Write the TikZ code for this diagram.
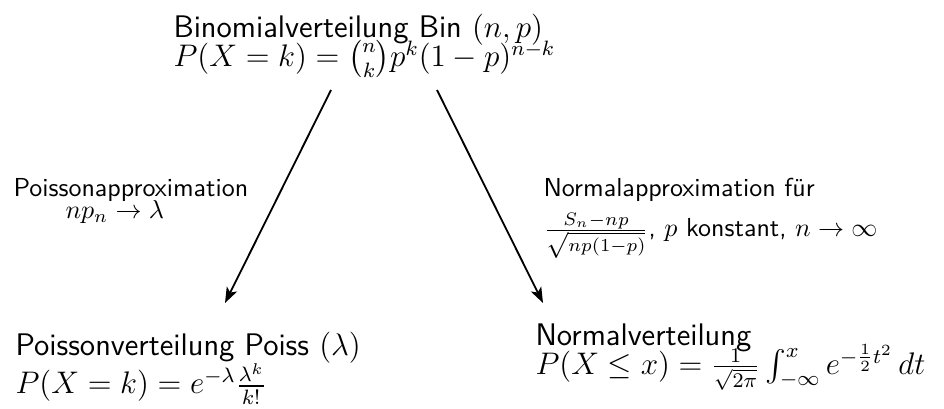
\documentclass[tikz,border=0pt]{standalone}
\usepackage{amsmath}
\usetikzlibrary{arrows.meta}
\begin{document}
\begin{tikzpicture}[x=0.3846pt,y=-0.3846pt,
  mainbox/.style={inner sep=0pt,anchor=north west,align=left,font=\sffamily\fontsize{12}{14.5}\selectfont},
  lblbox/.style={inner sep=0pt,anchor=north west,align=left,font=\sffamily\fontsize{10}{12}\selectfont},
  conn/.style={line width=0.7pt,-{Stealth[length=6pt,width=4.4pt,inset=1.5pt]}}]
\useasboundingbox (0,0) rectangle (944,409);
\node[mainbox] (bin) at (173,13.3) {Binomialverteilung Bin $(n,p)$\\[-3.3pt]$P(X=k)=\binom{n}{k}p^k(1-p)^{n-k}$};
\node[mainbox] (poi) at (15,331.6) {Poissonverteilung Poiss $(\lambda)$\\[-1pt]$P(X=k)=e^{-\lambda}\frac{\lambda^k}{k!}$};
\node[mainbox] (nor) at (535,323.3) {Normalverteilung\\[-3.3pt]$P(X\leq x)=\frac{1}{\sqrt{2\pi}}\int_{-\infty}^{x}e^{-\frac{1}{2}t^2}\,dt$};
\node[lblbox] (lp) at (13,178) {Poissonapproximation\\[-3.5pt]\hspace*{20pt}$np_n\to\lambda$};
\node[lblbox] (ln) at (543,177.7) {Normalapproximation f\"ur\\[3.5pt]$\frac{S_n-np}{\sqrt{np(1-p)}}$, $p$ konstant, $n\to\infty$};
\coordinate (s1) at (331,90);
\coordinate (e1) at (225,303);
\coordinate (s2) at (437,90);
\coordinate (e2) at (543,303);
\draw[conn] (s1) -- (e1);
\draw[conn] (s2) -- (e2);
\end{tikzpicture}
\end{document}
